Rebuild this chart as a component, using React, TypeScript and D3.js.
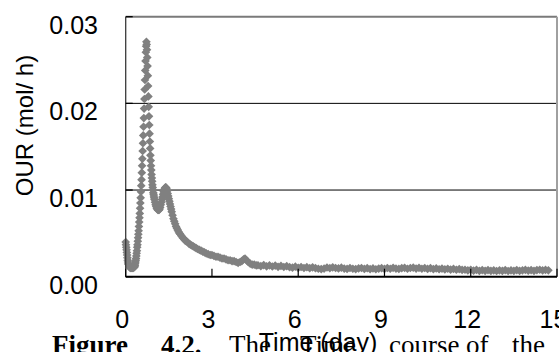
import React from "react";
import * as d3 from "d3";

const W = 559;
const H = 352;

const xTicks = [0, 3, 6, 9, 12, 15];
const yTicks = [0, 0.01, 0.02, 0.03];
const yTickLabels = ["0.00", "0.01", "0.02", "0.03"];
const yTitle = "OUR (mol/ h)";
const xTitle = "Time (day)";

// start-up phase
const startDays = [0, 0.01, 0.02, 0.03, 0.04, 0.05, 0.06, 0.07, 0.08, 0.09, 0.1, 0.12, 0.14, 0.16, 0.18, 0.2, 0.22, 0.24, 0.26, 0.28];
const startOUR = [0.004, 0.0037, 0.0034, 0.0031, 0.0028, 0.0025, 0.0022, 0.0019, 0.0017, 0.0015, 0.0014, 0.0012, 0.0011, 0.001, 0.001, 0.001, 0.001, 0.001, 0.001, 0.0011];

// rise to main peak
const riseDays = [0.3, 0.31, 0.32, 0.33, 0.34, 0.35, 0.36, 0.37, 0.38, 0.39, 0.4, 0.41, 0.42, 0.43, 0.44, 0.45, 0.46, 0.47, 0.48, 0.49, 0.5, 0.51, 0.52, 0.53, 0.54, 0.55, 0.56, 0.57, 0.58, 0.59, 0.6, 0.61, 0.62, 0.63, 0.64, 0.65, 0.66, 0.67, 0.68, 0.69, 0.7, 0.71, 0.72];
const riseOUR = [0.0011, 0.0012, 0.0013, 0.0015, 0.0017, 0.0019, 0.0021, 0.0024, 0.0027, 0.003, 0.0034, 0.0037, 0.0041, 0.0045, 0.0049, 0.0053, 0.0058, 0.0063, 0.0068, 0.0073, 0.0079, 0.0085, 0.0091, 0.0098, 0.0105, 0.0112, 0.012, 0.0128, 0.0136, 0.0145, 0.0154, 0.0163, 0.0173, 0.0183, 0.0194, 0.0205, 0.0216, 0.0227, 0.0238, 0.0249, 0.0259, 0.0266, 0.0271];

// fall after main peak
const fallDays = [0.73, 0.74, 0.75, 0.76, 0.77, 0.78, 0.79, 0.8, 0.81, 0.82, 0.83, 0.84, 0.85, 0.86, 0.87, 0.88, 0.89, 0.9, 0.91, 0.92, 0.93, 0.94, 0.95, 0.96, 0.97, 0.98, 0.99, 1.0];
const fallOUR = [0.0268, 0.0262, 0.0253, 0.0243, 0.0232, 0.022, 0.0208, 0.0196, 0.0185, 0.0175, 0.0165, 0.0156, 0.0148, 0.014, 0.0134, 0.0128, 0.0123, 0.0118, 0.0114, 0.011, 0.0106, 0.0103, 0.01, 0.0097, 0.0095, 0.0093, 0.0091, 0.0089];

// trough and second peak
const secondDays = [1.02, 1.04, 1.06, 1.08, 1.1, 1.12, 1.14, 1.16, 1.18, 1.2, 1.22, 1.24, 1.26, 1.28, 1.3, 1.32, 1.34, 1.36, 1.38, 1.4, 1.42, 1.44, 1.46, 1.48, 1.5, 1.52, 1.54, 1.56, 1.58, 1.6];
const secondOUR = [0.0086, 0.0083, 0.0081, 0.0079, 0.0078, 0.0077, 0.0077, 0.0077, 0.0078, 0.008, 0.0083, 0.0086, 0.0089, 0.0092, 0.0095, 0.0098, 0.01, 0.0102, 0.0103, 0.0103, 0.0102, 0.0099, 0.0096, 0.0093, 0.009, 0.0087, 0.0084, 0.0081, 0.0078, 0.0075];

// decay
const decayDays = [1.63, 1.66, 1.69, 1.72, 1.75, 1.78, 1.81, 1.84, 1.87, 1.9, 1.94, 1.98, 2.02, 2.06, 2.1, 2.15, 2.2, 2.25, 2.3, 2.35, 2.4, 2.45, 2.5, 2.56, 2.62, 2.68, 2.74, 2.8, 2.87, 2.94, 3.0, 3.07, 3.14, 3.21, 3.28, 3.35, 3.42, 3.49, 3.56, 3.63, 3.7, 3.77, 3.84, 3.91, 3.98, 4.04, 4.1, 4.15, 4.2, 4.26, 4.33, 4.4, 4.47, 4.54];
const decayOUR = [0.0071, 0.0067, 0.0064, 0.0061, 0.0058, 0.0056, 0.0054, 0.0052, 0.005, 0.0049, 0.0047, 0.0045, 0.0044, 0.0042, 0.0041, 0.004, 0.0038, 0.0037, 0.0036, 0.0035, 0.0034, 0.0033, 0.0032, 0.0031, 0.003, 0.0029, 0.0028, 0.0027, 0.0026, 0.0025, 0.0025, 0.0024, 0.0023, 0.0023, 0.0022, 0.0021, 0.0021, 0.002, 0.0019, 0.0019, 0.0018, 0.0018, 0.0017, 0.0016, 0.0017, 0.0018, 0.002, 0.0021, 0.0019, 0.0017, 0.0015, 0.0014, 0.0014, 0.0013];

// long tail
const tailDays = [
  4.6, 4.7, 4.8, 4.9, 5.0, 5.1, 5.2, 5.3, 5.4, 5.5,
  5.6, 5.7, 5.8, 5.9, 6.0, 6.1, 6.2, 6.3, 6.4, 6.5,
  6.6, 6.7, 6.8, 6.9, 7.0, 7.1, 7.2, 7.3, 7.4, 7.5,
  7.6, 7.7, 7.8, 7.9, 8.0, 8.1, 8.2, 8.3, 8.4, 8.5,
  8.6, 8.7, 8.8, 8.9, 9.0, 9.1, 9.2, 9.3, 9.4, 9.5,
  9.6, 9.7, 9.8, 9.9, 10.0, 10.1, 10.2, 10.3, 10.4, 10.5,
  10.6, 10.7, 10.8, 10.9, 11.0, 11.1, 11.2, 11.3, 11.4, 11.5,
  11.6, 11.7, 11.8, 11.9, 12.0, 12.1, 12.2, 12.3, 12.4, 12.5,
  12.6, 12.7, 12.8, 12.9, 13.0, 13.1, 13.2, 13.3, 13.4, 13.5,
  13.6, 13.7, 13.8, 13.9, 14.0, 14.1, 14.2, 14.3, 14.4, 14.5,
  14.6, 14.7,
];
const tailOUR = [
  0.00132, 0.00122, 0.00134, 0.0012, 0.0013, 0.00118, 0.00128, 0.00114, 0.00124, 0.00112,
  0.00122, 0.0011, 0.00104, 0.00116, 0.00102, 0.00112, 0.001, 0.0011, 0.00098, 0.00108,
  0.00098, 0.00092, 0.00088, 0.00094, 0.00106, 0.00098, 0.00108, 0.001, 0.00096, 0.00104,
  0.00094, 0.0009, 0.001, 0.00092, 0.00088, 0.00096, 0.001, 0.0009, 0.00098, 0.00088,
  0.00096, 0.00086, 0.00094, 0.00098, 0.0009, 0.001, 0.00092, 0.00102, 0.00094, 0.0009,
  0.00098, 0.00102, 0.00092, 0.001, 0.00104, 0.00094, 0.00102, 0.00092, 0.001, 0.0009,
  0.00098, 0.00088, 0.00096, 0.00086, 0.00094, 0.00084, 0.00092, 0.00082, 0.0009, 0.0008,
  0.00088, 0.00078, 0.0008, 0.00072, 0.0008, 0.0007, 0.00078, 0.00068, 0.00076, 0.00068,
  0.00076, 0.00068, 0.00074, 0.00066, 0.00074, 0.00068, 0.00076, 0.00066, 0.00074, 0.00068,
  0.00076, 0.00068, 0.00074, 0.00078, 0.0007, 0.00076, 0.00068, 0.00076, 0.0008, 0.00072,
  0.00078, 0.00074,
];

const allDays = [...startDays, ...riseDays, ...fallDays, ...secondDays, ...decayDays, ...tailDays];
const allOUR = [...startOUR, ...riseOUR, ...fallOUR, ...secondOUR, ...decayOUR, ...tailOUR];

const captionWords = [
  { text: "Figure", bold: true, x: 52 },
  { text: "4.2.", bold: true, x: 161 },
  { text: "The", bold: false, x: 229 },
  { text: "Time", bold: false, x: 300 },
  { text: "course", bold: false, x: 389 },
  { text: "of", bold: false, x: 466 },
  { text: "the", bold: false, x: 512 },
];

export default function App() {
  const x = d3.scaleLinear().domain([0, 15]).range([125.7, 557]);
  const y = d3.scaleLinear().domain([0, 0.03]).range([276.7, 16.7]);
  const diamond = d3.symbol().type(d3.symbolDiamond2).size(48)() as string;
  const sans = "'Liberation Sans', Arial, sans-serif";
  const serif = "'Liberation Serif', 'Times New Roman', serif";
  const x0 = x(0);
  const x1 = x(15);

  return (
    <svg
      width={W}
      height={H}
      style={{ position: "absolute", left: 0, top: 0, background: "#fff" }}
    >
      <rect x={0} y={0} width={W} height={H} fill="#fff" />
      {/* gridlines */}
      {[0.01, 0.02].map((v) => (
        <line key={v} x1={x0} x2={x1} y1={y(v)} y2={y(v)} stroke="#000" strokeWidth={1} />
      ))}
      {/* markers */}
      <g fill="#808080">
        {allDays.map((d, i) => (
          <path key={i} d={diamond} transform={`translate(${x(d)},${y(allOUR[i])})`} />
        ))}
      </g>
      {/* frame */}
      <line x1={x0} x2={x1} y1={y(0.03)} y2={y(0.03)} stroke="#7a7a7a" strokeWidth={2} />
      <line x1={x1} x2={x1} y1={y(0.03)} y2={y(0)} stroke="#a0a0a0" strokeWidth={2} />
      <line x1={x0} x2={x0} y1={y(0.03)} y2={y(0)} stroke="#3a3a3a" strokeWidth={1.3} />
      {yTicks.map((v) => (
        <line key={v} x1={x0} x2={x0 + 7} y1={y(v)} y2={y(v)} stroke="#000" strokeWidth={1.3} />
      ))}
      <line x1={x0} x2={x1} y1={y(0)} y2={y(0)} stroke="#000" strokeWidth={2} />
      {xTicks.map((t) => (
        <line key={t} x1={x(t)} x2={x(t)} y1={y(0)} y2={y(0) - 8} stroke="#000" strokeWidth={1.2} />
      ))}
      {/* y tick labels */}
      {yTicks.map((v, i) => (
        <text key={v} x={98} y={y(v) + 17} textAnchor="end" fontFamily={sans} fontSize={25} fill="#000">
          {yTickLabels[i]}
        </text>
      ))}
      {/* x tick labels */}
      {xTicks.map((t) => (
        <text key={t} x={x(t) - 3.5} y={328} textAnchor="middle" fontFamily={sans} fontSize={25} fill="#000">
          {t}
        </text>
      ))}
      {/* caption (under axis title) */}
      {captionWords.map((w) => (
        <text
          key={w.text + w.x}
          x={w.x}
          y={354}
          fontFamily={serif}
          fontSize={27}
          fontWeight={w.bold ? "bold" : "normal"}
          fill="#000"
        >
          {w.text}
        </text>
      ))}
      {/* axis titles */}
      <text
        transform={`translate(33,125.5) rotate(-90)`}
        textAnchor="middle"
        fontFamily={sans}
        fontSize={24}
        fill="#000"
      >
        {yTitle}
      </text>
      <text x={318} y={351} textAnchor="middle" fontFamily={sans} fontSize={25} fill="#000">
        {xTitle}
      </text>
    </svg>
  );
}
